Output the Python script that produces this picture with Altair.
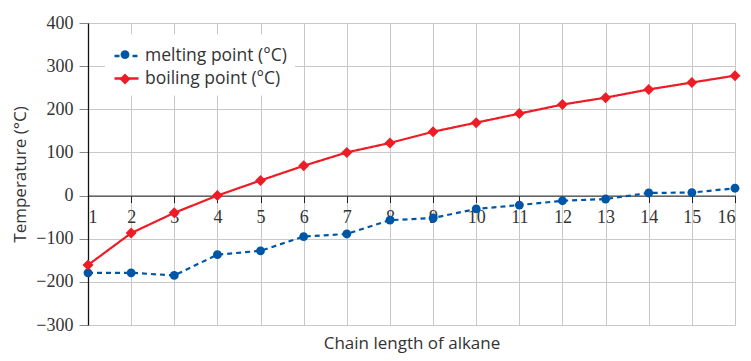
import altair as alt
import pandas as pd

chain = list(range(1, 17))
melting = [-179, -179, -185, -137, -128, -95, -89, -57, -52, -31, -22, -12, -8, 6, 7, 17]
boiling = [-161, -87, -40, 0, 35, 69, 100, 122, 148, 169, 190, 211, 227, 246, 262, 278]
series_names = ["melting point (°C)", "boiling point (°C)"]
marker_names = [n + " " for n in series_names]
colors = ["#0056a6", "#ee1c25"]
y_ticks = [-300, -200, -100, 0, 100, 200, 300, 400]

df = pd.DataFrame({
    "Chain": chain * 2,
    "Temp": melting + boiling,
    "Series": [series_names[0]] * len(chain) + [series_names[1]] * len(chain),
})

W, H = 647, 302
zero_offset = -H * 300 / 700
SERIF = "Liberation Serif, Times New Roman, serif"
SANS = "Open Sans"

LX, LY = 17, 11.5
ROW = 24.5
SYM_W = 24
line_legend = alt.Legend(
    title=None, orient="none", legendX=LX, legendY=LY, fillColor="white",
    padding=8, labelFont=SANS, labelFontSize=17.5, labelColor="#333",
    symbolType="stroke", symbolSize=SYM_W * SYM_W, symbolStrokeWidth=2.3,
    rowPadding=ROW - SYM_W, labelOffset=5,
)
point_legend = alt.Legend(
    title=None, orient="none", legendX=LX + SYM_W / 2 - 5.5, legendY=LY + SYM_W / 2 - 4.45,
    padding=8, labelExpr="''", labelFontSize=1,
    symbolStrokeWidth=0, rowPadding=ROW - 10, labelOffset=0,
)

x = alt.X(
    "Chain:Q",
    scale=alt.Scale(domain=[1, 16], nice=False, zero=False),
    axis=alt.Axis(
        values=chain, format="d", offset=zero_offset, tickColor="#222", tickSize=7,
        domainColor="#444", domainWidth=1.2, labelFont=SERIF,
        labelFontSize=18, labelColor="#333", labelPadding=6,
        gridColor="#c8c8c8", gridWidth=1,
        title="Chain length of alkane", titleFont=SANS, titleFontSize=17,
        titleFontWeight="normal", titleColor="#333", titleY=148, titleBaseline="middle",
    ),
)
y = alt.Y(
    "Temp:Q",
    scale=alt.Scale(domain=[-300, 400], nice=False),
    axis=alt.Axis(
        values=y_ticks, tickColor="#888", tickSize=9, domainColor="#111", domainWidth=1.3,
        labelFont=SERIF, labelFontSize=18, labelColor="#333", labelPadding=6,
        gridColor="#c8c8c8", gridWidth=1,
        title="Temperature (°C)", titleFont=SANS, titleFontSize=17,
        titleFontWeight="normal", titleColor="#333", titleX=-68, titleBaseline="middle",
    ),
)

base = alt.Chart(df).encode(x=x, y=y)

lines = base.mark_line(strokeWidth=2.2).encode(
    stroke=alt.Stroke("Series:N", scale=alt.Scale(domain=series_names, range=colors), legend=line_legend),
    strokeDash=alt.StrokeDash(
        "Series:N", scale=alt.Scale(domain=series_names, range=[[5, 4], [1, 0]]), legend=line_legend
    ),
)
points = base.transform_calculate(Marker="datum.Series + ' '").mark_point(
    filled=True, opacity=1, strokeWidth=0
).encode(
    fill=alt.Fill("Marker:N", scale=alt.Scale(domain=marker_names, range=colors), legend=point_legend),
    shape=alt.Shape(
        "Marker:N", scale=alt.Scale(domain=marker_names, range=["circle", "diamond"]), legend=point_legend
    ),
    size=alt.Size("Marker:N", scale=alt.Scale(domain=marker_names, range=[78, 121]), legend=point_legend),
)

chart = (
    alt.layer(lines, points)
    .properties(width=W, height=H, autosize=alt.AutoSizeParams(type="none"),
                padding={"left": 80, "top": 15, "right": 8, "bottom": 28})
    .configure_view(stroke=None)
    .configure(background="white")
)

chart.save("out.html", embed_options={"renderer": "svg", "actions": False})
